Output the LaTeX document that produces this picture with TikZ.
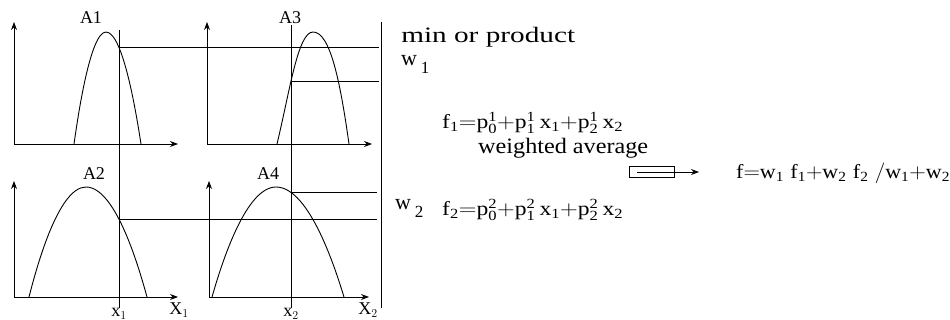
\documentclass[tikz,border=0pt]{standalone}
\usepackage{fontspec}
\setmainfont{Liberation Serif}
\usepackage{tikz}
\usetikzlibrary{arrows.meta, positioning, intersections}

\newcommand{\lowsub}[1]{\,\raisebox{-8pt}{\fontsize{17}{17}\selectfont #1}}

\begin{document}
\begin{tikzpicture}[
    x=1pt, y=-1pt,
    axis/.style={-{Stealth[length=8pt, width=6pt]}, line width=0.9pt},
    curve/.style={line width=0.9pt},
    cut/.style={line width=0.7pt},
    lbl/.style={font=\fontsize{18}{18}\selectfont, inner sep=0pt},
    txt/.style={font=\fontsize{22}{24}\selectfont, inner sep=0pt, anchor=west},
    eq/.style={font=\fontsize{20}{22}\selectfont, inner sep=0pt, anchor=west},
    arrow/.style={-{Stealth[length=8pt, width=6pt]}, line width=0.9pt},
]
    \useasboundingbox (0,0) rectangle (950,320);

    % Axes
    \draw[axis] (14,144) -- (14,22);   \draw[axis] (14,144) -- (178,144);
    \draw[axis] (207,144) -- (207,22); \draw[axis] (207,144) -- (372,144);
    \draw[axis] (14,297) -- (14,181);  \draw[axis] (14,297) -- (178,297);
    \draw[axis] (209,297) -- (209,181); \draw[axis] (209,297) -- (369,297);

    % Membership functions
    \draw[curve, name path=mfa] (74,144) parabola bend (106,32) (141,144);
    \draw[curve, name path=mfc] (277,144) .. controls (290,90) and (298,32) .. (313,32)
                                 .. controls (330,32) and (340,80) .. (349,144);
    \draw[curve, name path=mfb] (29,297) parabola bend (86,187) (147,297);
    \draw[curve, name path=mfd] (212,297) parabola bend (276,187) (344,297);

    \node[lbl] (la) at (91,18) {A1};
    \node[lbl] (lc) at (290,18) {A3};
    \node[lbl] (lb) at (94,174) {A2};
    \node[lbl] (ld) at (268,174) {A4};
    \node[lbl] (xa) at (179,310) {X$_1$};
    \node[lbl] (xb) at (368,310) {X$_2$};

    % Inputs
    \draw[cut, name path=inpa] (119,30) -- (119,308);
    \draw[cut, name path=inpb] (291,25) -- (291,308);
    \node[lbl, anchor=north] (va) at (119,308) {x$_1$};
    \node[lbl, anchor=north] (vb) at (291,308) {x$_2$};

    % Firing strengths
    \path[name intersections={of=mfa and inpa, by=pa}];
    \path[name intersections={of=mfb and inpa, by=pb}];
    \path[name intersections={of=mfc and inpb, by=pc}];
    \path[name intersections={of=mfd and inpb, by=pd}];
    \draw[cut] (pa) -- (pa -| 379,0);
    \draw[cut] (pc) -- (pc -| 379,0);
    \draw[cut] (pb) -- (pb -| 377,0);
    \draw[cut] (pd) -- (pd -| 377,0);
    \draw[cut] (381,22) -- (381,308);

    % Rule outputs
    \node[txt, xscale=1.33] (minop) at (401,37) {min or product};
    \node[txt, anchor=base west] (wa) at (401,66) {w\lowsub{1}};
    \node[eq, xscale=1.18] (fa) at (442,123) {$\mathrm{f_1{=}p^1_0{+}p^1_1\,x_1{+}p^1_2\,x_2}$};
    \node[txt, xscale=1.1] (wavg) at (478,148) {weighted average};
    \node[txt, anchor=base west] (wb) at (395,210) {w\lowsub{2}};
    \node[eq, xscale=1.18] (fb) at (442,210) {$\mathrm{f_2{=}p^2_0{+}p^2_1\,x_1{+}p^2_2\,x_2}$};

    % Output
    \node[draw, line width=0.7pt, minimum width=45pt, minimum height=11pt, inner sep=0pt] (avgbox) at (652,172) {};
    \node[eq, xscale=1.1] (fout) at (736,173) {$\mathrm{f{=}w_1\;f_1{+}w_2\;f_2\;/w_1{+}w_2}$};
    \coordinate (tip) at (699,172);
    \draw[arrow] ([xshift=8pt]avgbox.west) -- (tip);
\end{tikzpicture}
\end{document}
